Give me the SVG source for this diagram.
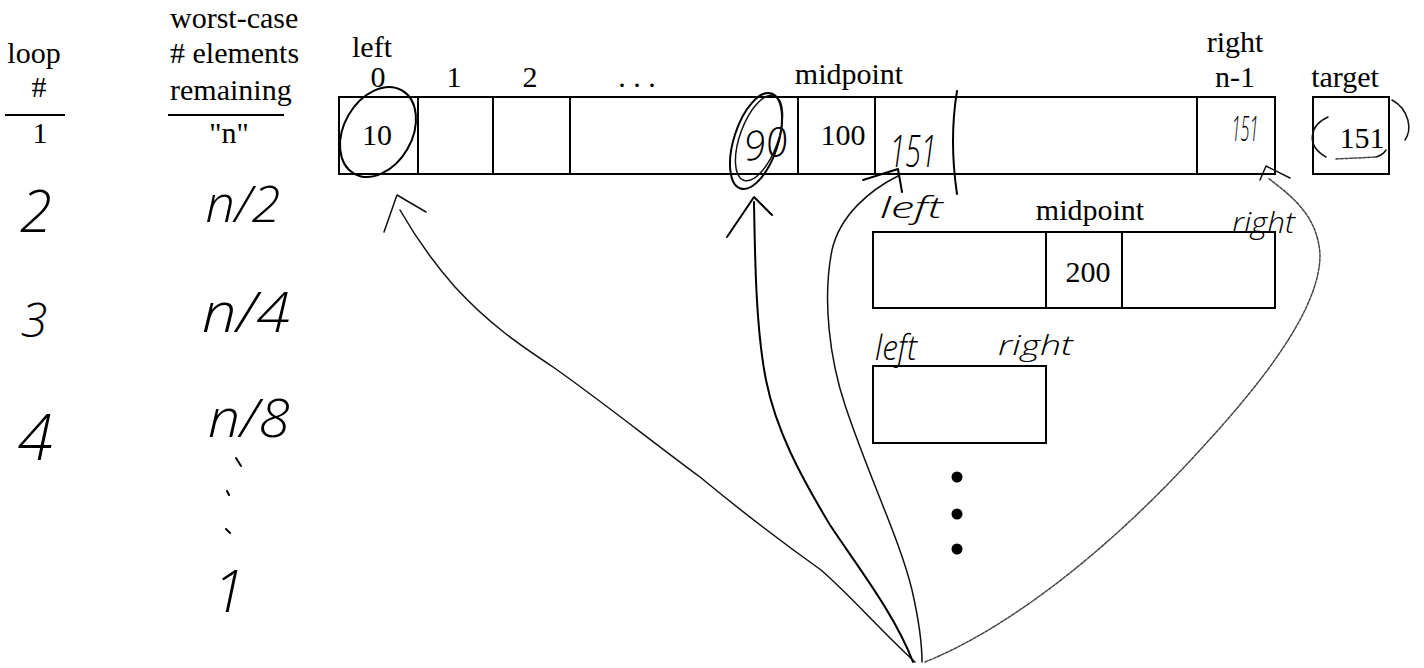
<svg xmlns="http://www.w3.org/2000/svg" width="1424" height="668" viewBox="0 0 1424 668">
<style>
.t{font-family:"Liberation Serif","Times New Roman",serif;font-size:30px;fill:#000}
.m{text-anchor:middle}
.h{font-family:"Open Sans","Lato","DejaVu Sans",sans-serif;font-weight:300;font-style:italic;fill:#000}
.box{fill:none;stroke:#000;stroke-width:2}
.ln{fill:none;stroke:#000;stroke-width:2}
.pen{fill:none;stroke:#000;stroke-width:2;stroke-linecap:round;stroke-linejoin:round}
.thin{fill:none;stroke:#111;stroke-width:1.5;stroke-linecap:round;stroke-linejoin:round}
.dots{fill:none;stroke:#444;stroke-width:1.5;stroke-dasharray:3 1.5;stroke-linecap:round}
</style>
<rect width="1424" height="668" fill="#fff"/>

<g id="loop-column">
<text class="t m" x="34" y="63">loop</text>
<text class="t m" x="39" y="97">#</text>
<line class="ln" x1="5" y1="115" x2="65" y2="115" stroke-width="1.5"/>
<text class="t m" x="40" y="143">1</text>
<text class="h m" x="36" y="232" font-size="58">2</text>
<text class="h m" x="34" y="337" font-size="48">3</text>
<text class="h m" x="35" y="460" font-size="64">4</text>
</g>

<g id="remaining-column">
<text class="t" x="170" y="28">worst-case</text>
<text class="t" x="170" y="63">#&#160;elements</text>
<text class="t" x="170" y="100">remaining</text>
<line class="ln" x1="168" y1="115" x2="284" y2="115" stroke-width="1.5"/>
<text class="t m" x="229" y="143">"n"</text>
<text class="h m" x="243" y="222" font-size="50" textLength="75" lengthAdjust="spacingAndGlyphs">n/2</text>
<text class="h m" x="246" y="332" font-size="56" textLength="88" lengthAdjust="spacingAndGlyphs">n/4</text>
<text class="h m" x="249" y="437" font-size="54" textLength="82" lengthAdjust="spacingAndGlyphs">n/8</text>
<path class="pen" stroke-width="3" d="M236 458L241 466M227 491L229 495M226 529L230 533"/>
<text class="h m" x="229" y="612" font-size="58">1</text>
</g>

<g id="main-array">
<text class="t m" x="372" y="57">left</text>
<text class="t m" x="378" y="87">0</text>
<text class="t m" x="454" y="87">1</text>
<text class="t m" x="530" y="87">2</text>
<text class="t m" x="637" y="87">.   .   .</text>
<text class="t m" x="849" y="84">midpoint</text>
<text class="t m" x="1235" y="52">right</text>
<text class="t m" x="1235" y="87">n-1</text>
<rect class="box" x="339" y="97" width="936" height="77"/>
<path class="ln" d="M418 97V174M493 97V174M570 97V174M798 97V174M875 97V174M1197 97V174"/>
<text class="t m" x="377" y="145">10</text>
<ellipse class="pen" cx="378" cy="132" rx="34" ry="48" transform="rotate(30 378 132)"/>
<text class="h m" x="765" y="158" font-size="40" transform="rotate(-8 765 140)">90</text>
<ellipse class="pen" cx="756" cy="141" rx="22" ry="50" transform="rotate(18 756 141)"/>
<ellipse class="thin" cx="759" cy="138" rx="19" ry="45" transform="rotate(20 759 138)"/>
<text class="t m" x="843" y="145">100</text>
<text class="h m" x="913" y="167" font-size="44" textLength="47" lengthAdjust="spacingAndGlyphs">151</text>
<path class="pen" stroke-width="2.5" d="M957 91Q949 140 957 194"/>
<text class="h m" x="1245" y="141" font-size="34" textLength="27" lengthAdjust="spacingAndGlyphs">151</text>
</g>

<g id="target">
<text class="t m" x="1345" y="87">target</text>
<rect class="box" x="1313" y="97" width="76" height="77"/>
<text class="t m" x="1362" y="148" font-size="31">151</text>
<path class="thin" d="M1328 117C1310 125 1305 145 1326 157"/>
<path class="dots" d="M1336 159L1376 157"/>
<path class="thin" d="M1376 157Q1383 155 1386 150"/>
<path class="thin" d="M1392 100C1410 110 1412 130 1405 140"/>
</g>

<g id="loop2-array">
<text class="h" x="880" y="218" font-size="30" textLength="63" lengthAdjust="spacingAndGlyphs">left</text>
<text class="t m" x="1090" y="220">midpoint</text>
<text class="h" x="1232" y="233" font-size="30" textLength="63" lengthAdjust="spacingAndGlyphs">right</text>
<rect class="box" x="873" y="232" width="402" height="76"/>
<path class="ln" d="M1046 232V308M1122 232V308"/>
<text class="t m" x="1088" y="282">200</text>
</g>

<g id="loop3-array">
<text class="h" x="875" y="360" font-size="34" textLength="42" lengthAdjust="spacingAndGlyphs">left</text>
<text class="h" x="998" y="355" font-size="28" textLength="75" lengthAdjust="spacingAndGlyphs">right</text>
<rect class="box" x="873" y="366" width="173" height="77"/>
<circle cx="957" cy="477" r="5.5"/>
<circle cx="957" cy="514" r="5.5"/>
<circle cx="957" cy="549" r="5.5"/>
</g>

<g id="connectors">
<path class="thin" d="M400 210C420 245 440 270 455 287C490 325 520 345 553 367C600 400 650 440 700 477C740 510 790 548 821 570C850 595 880 630 915 662"/>
<path class="thin" d="M384 232L397 195L426 212"/>
<path class="pen" d="M754 202C755 260 756 330 766 380C776 430 800 475 830 525C860 570 895 615 913 662"/>
<path class="pen" d="M727 237L754 197L772 215"/>
<path class="thin" d="M898 176C870 190 840 215 832 250C822 300 830 360 845 405C870 480 900 540 912 590C920 625 922 645 922 662"/>
<path class="pen" d="M863 180L898 169L902 192"/>
<path class="dots" d="M925 662C1000 632 1100 560 1200 450C1260 385 1320 310 1320 255C1318 215 1290 195 1268 178"/>
<path class="thin" d="M1260 180L1266 166L1290 178"/>
</g>
</svg>
